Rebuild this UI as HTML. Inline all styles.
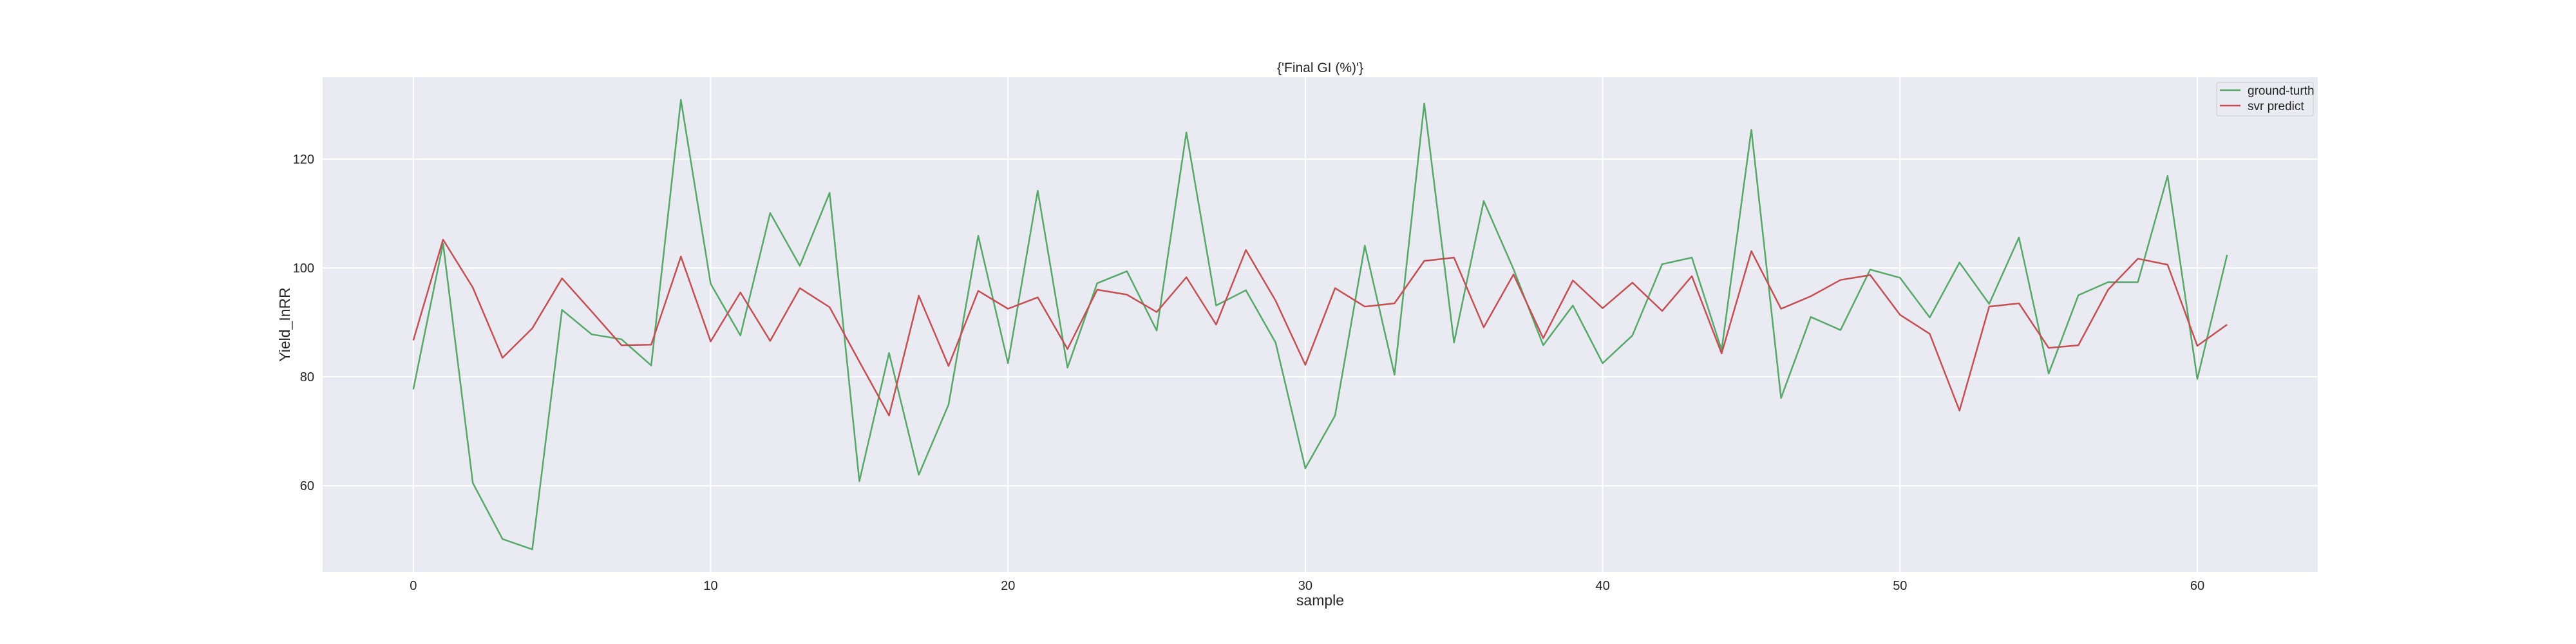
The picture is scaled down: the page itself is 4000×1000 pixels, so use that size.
<!DOCTYPE html>
<html><head><meta charset="utf-8"><style>
html,body{margin:0;padding:0;background:#fff;}
svg{display:block;font-family:"Liberation Sans",sans-serif;}
</style></head><body>
<svg id="chart" width="4000" height="1000" viewBox="0 0 4000 1000">
<rect x="501" y="120" width="3098" height="768" fill="#eaeaf2"/>
<g id="grid"></g>
<g id="lines"></g>
<g id="ticks"></g>
<text x="2050" y="112" text-anchor="middle" font-size="21" fill="#262626">{'Final GI (%)'}</text>
<text x="2050" y="940" text-anchor="middle" font-size="23" fill="#262626">sample</text>
<text x="0" y="0" transform="translate(450,504) rotate(-90)" text-anchor="middle" font-size="23" fill="#262626">Yield_InRR</text>
<g>
<rect x="3442" y="128" width="150" height="52" rx="3" fill="#eaeaf2" stroke="#cccccc" stroke-width="1"/>
<g>
<line x1="3447" y1="140" x2="3479" y2="140" stroke="#55a868" stroke-width="2.5"/>
<text x="3490" y="147" font-size="19" fill="#262626">ground-turth</text>
</g>
<g>
<line x1="3447" y1="164" x2="3479" y2="164" stroke="#c44e52" stroke-width="2.5"/>
<text x="3490" y="171" font-size="19" fill="#262626">svr predict</text>
</g>
</g>
</svg>
<script>
const groundTruth=[77.7,104.5,60.5,50.2,48.3,92.3,87.8,86.9,82.1,130.9,97.1,87.6,110.1,100.4,113.8,60.8,84.4,62.0,74.9,105.9,82.5,114.2,81.7,97.2,99.4,88.5,124.9,93.1,95.9,86.3,63.2,72.9,104.1,80.4,130.2,86.3,112.3,99.8,85.8,93.1,82.5,87.6,100.7,101.9,84.9,125.4,76.1,91.0,88.6,99.7,98.2,90.9,101.0,93.4,105.6,80.6,95.0,97.4,97.4,116.9,79.6,102.4];
const svrPredict=[86.7,105.2,96.4,83.5,88.9,98.1,92.0,85.8,85.9,102.1,86.5,95.5,86.6,96.3,92.8,82.8,72.9,94.9,82.0,95.8,92.5,94.6,85.1,96.0,95.1,91.9,98.3,89.6,103.3,94.0,82.2,96.3,92.9,93.5,101.3,101.9,89.1,98.8,87.1,97.7,92.6,97.3,92.1,98.5,84.3,103.1,92.5,94.8,97.8,98.7,91.4,87.9,73.8,92.9,93.5,85.3,85.8,96.0,101.7,100.6,85.7,89.6];
const xTicks=[0,10,20,30,40,50,60];
const yTicks=[60,80,100,120];

const NS="http://www.w3.org/2000/svg";
const L=501,R=3599,T=120,B=888;
const n=groundTruth.length;
const xmin=-0.05*(n-1), xmax=(n-1)*1.05;
const yminRaw=Math.min(...groundTruth,...svrPredict), ymaxRaw=Math.max(...groundTruth,...svrPredict);
const ypad=(ymaxRaw-yminRaw)*0.05;
const ymin=yminRaw-ypad, ymax=ymaxRaw+ypad;
function sx(v){return L+(v-xmin)/(xmax-xmin)*(R-L);}
function sy(v){return B-(v-ymin)/(ymax-ymin)*(B-T);}
function mk(tag,attrs,parent){const e=document.createElementNS(NS,tag);for(const k in attrs)e.setAttribute(k,attrs[k]);parent.appendChild(e);return e;}
const grid=document.getElementById('grid'),ticks=document.getElementById('ticks'),lines=document.getElementById('lines');
xTicks.forEach(t=>{
  const g=mk('line',{x1:sx(t),x2:sx(t),y1:T,y2:B,stroke:'#ffffff','stroke-width':2},grid);
  
  
  const tx=mk('text',{x:sx(t),y:916,'text-anchor':'middle','font-size':20,fill:'#262626'},ticks);
  tx.textContent=t;
  
  
});
yTicks.forEach(t=>{
  const g=mk('line',{x1:L,x2:R,y1:sy(t),y2:sy(t),stroke:'#ffffff','stroke-width':2},grid);
  
  
  const tx=mk('text',{x:488,y:sy(t)+7,'text-anchor':'end','font-size':20,fill:'#262626'},ticks);
  tx.textContent=t;
  
  
});
function path(arr){return arr.map((v,i)=>(i?'L':'M')+sx(i).toFixed(1)+' '+sy(v).toFixed(1)).join(' ');}
const g1=mk('path',{d:path(groundTruth),fill:'none',stroke:'#55a868','stroke-width':2.5,'stroke-linejoin':'round'},lines);


const g2=mk('path',{d:path(svrPredict),fill:'none',stroke:'#c44e52','stroke-width':2.5,'stroke-linejoin':'round'},lines);


</script>
</body></html>
